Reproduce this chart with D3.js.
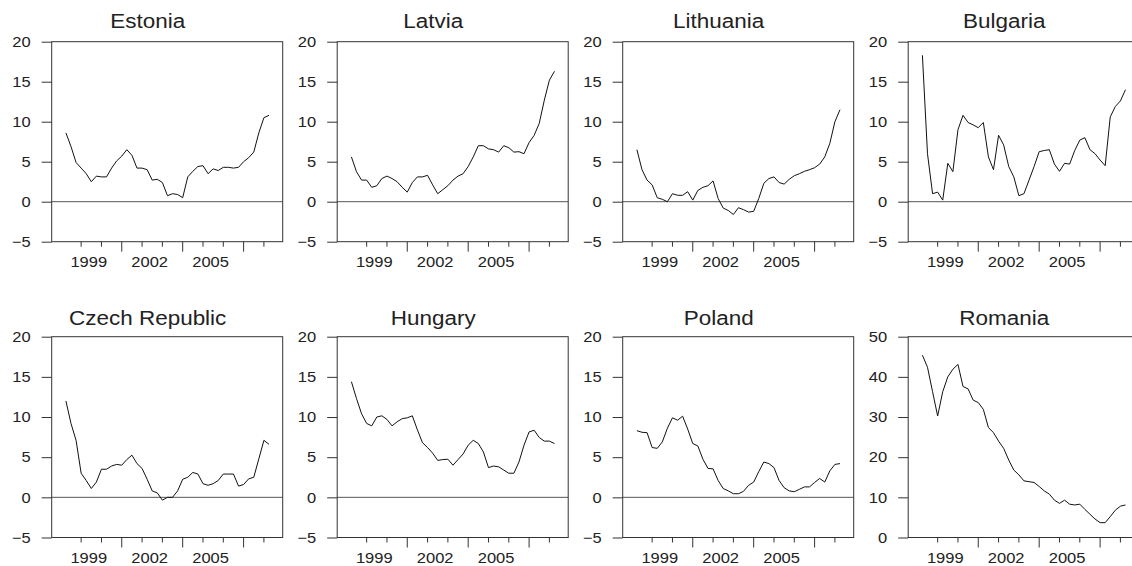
<!DOCTYPE html>
<html>
<head>
<meta charset="utf-8">
<script src="https://cdn.jsdelivr.net/npm/d3@7/dist/d3.min.js"></script>
<style>
  html, body { margin: 0; padding: 0; background: #fff; }
  svg { display: block; font-family: "Liberation Sans", Arial, Helvetica, sans-serif; }
</style>
</head>
<body>
<svg id="chart" width="1132" height="566"></svg>
<script>
// Quarterly observations, 1998Q2 - 2008Q2
const startYear = 1998, startQuarter = 2, nObs = 41;
const periods = [];
for (let k = 0; k < nObs; k++) {
  const q = startQuarter - 1 + k;
  periods.push((startYear + Math.floor(q / 4)) + "Q" + (q % 4 + 1));
}

const countries = ["Estonia", "Latvia", "Lithuania", "Bulgaria",
                   "Czech Republic", "Hungary", "Poland", "Romania"];

const estonia = [8.6, 6.9, 4.9, 4.2, 3.5, 2.5, 3.2, 3.1, 3.1, 4.2, 5.1, 5.7, 6.5, 5.8,
  4.2, 4.2, 4.0, 2.7, 2.8, 2.4, 0.75, 1.0, 0.9, 0.5, 3.1, 3.8, 4.4, 4.5, 3.5, 4.1,
  3.9, 4.3, 4.3, 4.2, 4.3, 5.0, 5.5, 6.2, 8.6, 10.5, 10.8];
const latvia = [5.6, 3.75, 2.7, 2.7, 1.8, 2.0, 2.9, 3.2, 2.9, 2.5, 1.8, 1.2, 2.4, 3.1,
  3.1, 3.3, 2.1, 1.0, 1.5, 2.0, 2.7, 3.2, 3.5, 4.4, 5.6, 7.0, 7.0, 6.6, 6.5, 6.2,
  7.0, 6.75, 6.2, 6.25, 6.0, 7.4, 8.3, 9.8, 12.7, 15.2, 16.3];
const lithuania = [6.5, 4.0, 2.7, 2.1, 0.5, 0.3, 0.0, 1.0, 0.8, 0.8, 1.25, 0.2, 1.4, 1.8,
  2.0, 2.6, 0.4, -0.8, -1.1, -1.6, -0.75, -1.0, -1.3, -1.2, 0.4, 2.3, 2.9, 3.1, 2.4, 2.2,
  2.8, 3.25, 3.5, 3.8, 4.0, 4.25, 4.7, 5.6, 7.3, 10.0, 11.5];
const bulgaria = [18.3, 6.0, 1.0, 1.2, 0.2, 4.8, 3.75, 9.0, 10.8, 9.9, 9.6, 9.25, 9.9, 5.6,
  4.0, 8.3, 7.1, 4.4, 3.1, 0.75, 1.0, 2.7, 4.4, 6.25, 6.4, 6.5, 4.7, 3.8, 4.8, 4.7,
  6.4, 7.7, 8.0, 6.5, 6.0, 5.2, 4.5, 10.6, 11.9, 12.6, 14.0];
const czech = [12.0, 9.2, 7.1, 3.0, 2.1, 1.1, 1.9, 3.5, 3.5, 3.9, 4.1, 4.0, 4.7, 5.25,
  4.2, 3.6, 2.25, 0.8, 0.55, -0.35, 0.0, 0.0, 0.8, 2.25, 2.5, 3.1, 2.9, 1.7, 1.5, 1.7,
  2.1, 2.9, 2.9, 2.9, 1.4, 1.6, 2.3, 2.5, 4.8, 7.1, 6.6];
const hungary = [14.4, 12.3, 10.4, 9.2, 8.9, 10.0, 10.15, 9.7, 8.9, 9.4, 9.8, 9.9, 10.15, 8.4,
  6.8, 6.2, 5.5, 4.6, 4.7, 4.75, 4.0, 4.7, 5.4, 6.5, 7.1, 6.7, 5.65, 3.7, 3.9, 3.8,
  3.4, 3.0, 3.0, 4.4, 6.5, 8.15, 8.35, 7.45, 7.0, 7.0, 6.7];
const poland = [8.3, 8.1, 8.05, 6.2, 6.1, 6.9, 8.6, 9.9, 9.6, 10.1, 8.5, 6.7, 6.4, 4.75,
  3.6, 3.55, 2.1, 1.1, 0.8, 0.45, 0.45, 0.75, 1.5, 1.9, 3.2, 4.4, 4.2, 3.7, 2.1, 1.2,
  0.8, 0.7, 1.0, 1.3, 1.3, 1.85, 2.35, 1.9, 3.3, 4.1, 4.2];
const romania = [45.4, 42.4, 36.3, 30.25, 36.3, 40.0, 41.9, 43.1, 37.6, 37.0, 34.2, 33.6, 31.9, 27.4,
  26.1, 24.0, 22.2, 19.3, 16.8, 15.6, 14.1, 13.9, 13.7, 12.7, 11.6, 10.8, 9.3, 8.5, 9.3, 8.3,
  8.1, 8.3, 7.0, 5.8, 4.6, 3.7, 3.7, 5.2, 6.8, 7.8, 8.1];

const series = [estonia, latvia, lithuania, bulgaria, czech, hungary, poland, romania];

// Axis tick values
const yTicksDefault = [-5, 0, 5, 10, 15, 20];
const yTicksRomania = [0, 10, 20, 30, 40, 50];
const tickYears = [1999, 2000, 2001, 2002, 2003, 2004, 2005, 2006, 2007, 2008];
const majorTickYears = [2001, 2004, 2007];
const labelYears = [1999, 2002, 2005];

// Layout
const boxLeft0 = 51.7, colStep = 285.5, boxW = 231;
const rowTop = [41.7, 336.7], rowH = [200, 200.8];
const ink = "#222", frame = "#333";
const titleStretch = 1.07, tickStretch = 1.1;   // slightly wide lettering

const svg = d3.select("#chart");

const x = d3.scaleLinear().domain([-2.8, 42.7]).range([0, boxW]);
const q1Index = yr => periods.indexOf(yr + "Q1");

countries.forEach((name, k) => {
  const row = Math.floor(k / 4), col = k % 4;
  const left = boxLeft0 + col * colStep, top = rowTop[row], h = rowH[row];
  const isRomania = name === "Romania";
  const yTicks = isRomania ? yTicksRomania : yTicksDefault;
  const y = d3.scaleLinear().domain(d3.extent(yTicks)).range([h, 0]);

  const g = svg.append("g").attr("transform", `translate(${left},${top})`);

  // Title
  g.append("text")
    .attr("x", 96 / titleStretch).attr("y", row === 0 ? -13.4 : -11.7)
    .attr("transform", `scale(${titleStretch},1)`)
    .attr("text-anchor", "middle")
    .attr("font-size", 21).attr("fill", ink)
    .text(name);

  // Zero reference line
  if (!isRomania) {
    g.append("line")
      .attr("x1", 0).attr("x2", boxW)
      .attr("y1", y(0)).attr("y2", y(0))
      .attr("stroke", "#555").attr("stroke-width", 1);
  }

  // Frame
  g.append("rect")
    .attr("x", 0).attr("y", 0).attr("width", boxW).attr("height", h)
    .attr("fill", "none").attr("stroke", frame).attr("stroke-width", 1);

  // Left axis
  const ya = g.append("g").call(
    d3.axisLeft(y).tickValues(yTicks).tickSize(10).tickPadding(11).tickFormat(d3.format("d")));
  ya.select(".domain").remove();
  ya.selectAll(".tick line").attr("stroke", frame);
  ya.selectAll(".tick text")
    .attr("x", -21 / tickStretch)
    .attr("transform", `scale(${tickStretch},1)`)
    .attr("font-size", 15).attr("fill", ink)
    .attr("font-family", "Liberation Sans, Arial, sans-serif");

  // Bottom axis: a tick at Q1 of each year, longer every third year
  const xa = g.append("g").attr("transform", `translate(0,${h})`);
  xa.selectAll("line.tk").data(tickYears).join("line")
    .attr("class", "tk")
    .attr("x1", d => x(q1Index(d))).attr("x2", d => x(q1Index(d)))
    .attr("y1", 0).attr("y2", d => majorTickYears.includes(d) ? 10 : 5)
    .attr("stroke", frame).attr("stroke-width", 1);
  xa.selectAll("text.lb").data(labelYears).join("text")
    .attr("class", "lb")
    .attr("x", d => x(q1Index(d) + 1.5) / tickStretch).attr("y", 25.8)
    .attr("transform", `scale(${tickStretch},1)`)
    .attr("text-anchor", "middle")
    .attr("font-size", 15).attr("fill", ink)
    .text(d => d);

  // Series line
  const line = d3.line().x((d, i) => x(i)).y(d => y(d));
  g.append("path")
    .datum(series[k])
    .attr("d", line)
    .attr("fill", "none").attr("stroke", "#111").attr("stroke-width", 1)
    .attr("stroke-linejoin", "round");
});
</script>
</body>
</html>
